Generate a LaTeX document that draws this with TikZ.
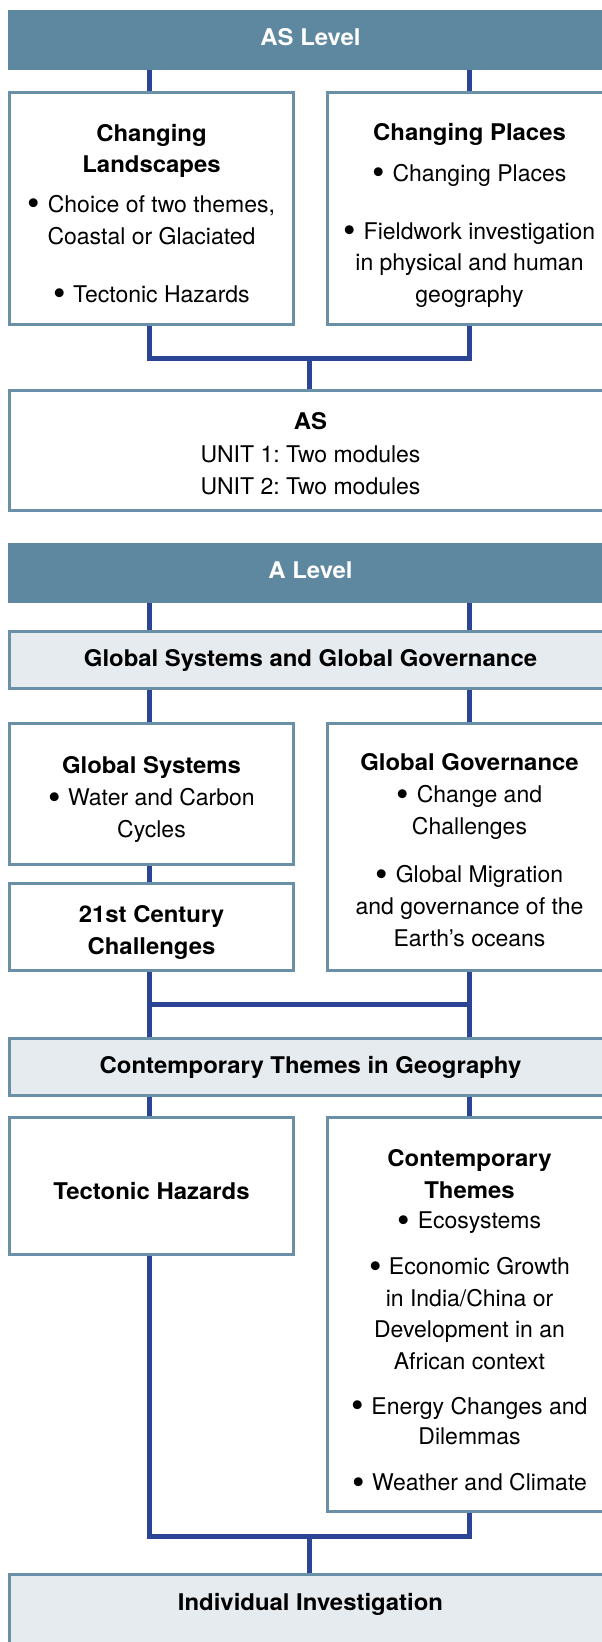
\documentclass[tikz,border=0pt]{standalone}
\usepackage{fontspec}
\usepackage{graphicx}
\setmainfont{TeX Gyre Heros}[BoldFeatures={FakeStretch=1.04}]
\usetikzlibrary{backgrounds}
\definecolor{barblue}{HTML}{5E87A0}
\definecolor{edgeblue}{HTML}{6A90A8}
\definecolor{lightfill}{HTML}{E6EBF0}
\definecolor{linkblue}{HTML}{2C4496}
\newcommand{\bul}{\raisebox{-3.4pt}{\scalebox{1.55}{\textbullet}}\hspace{1pt}}
\frenchspacing
\begin{document}
\begin{tikzpicture}[x=1pt,y=-1pt,
  bar/.style={fill=barblue, draw=none, minimum width=605pt, minimum height=60pt, inner sep=0pt,
    font=\fontsize{23}{28}\selectfont\bfseries, text=white, text height=16.5pt, text depth=5pt},
  box/.style={draw=edgeblue, line width=3pt, fill=white, inner sep=0pt},
  band/.style={box, fill=lightfill, font=\fontsize{23}{28}\selectfont\bfseries, text height=16.5pt, text depth=3pt},
  txt/.style={align=center, inner sep=0pt, anchor=north, font=\fontsize{23}{31.5}\selectfont},
  link/.style={draw=linkblue, line width=5pt}
]
\useasboundingbox (0,0) rectangle (602,1642);
\clip (0,0) rectangle (602,1642);

% columns
\coordinate (c1) at (149,0);
\coordinate (c2) at (469,0);

% AS level
\node[bar] (asbar) at (310.5,40) {AS Level};
\node[box, minimum width=284pt, minimum height=232.5pt] (asl) at (151.5,208.25) {};
\node[box, minimum width=284pt, minimum height=232.5pt] (asr) at (469.5,208.25) {};
\node[txt] (aslt) at (151.5,123.7) {\textbf{Changing}\\\textbf{Landscapes}\\[8.5pt]\bul\ Choice of two themes,\\Coastal or Glaciated\\[26.5pt]\bul\ Tectonic Hazards};
\node[txt] (asrt) at (469.5,122.7) {\textbf{Changing Places}\\[9.5pt]\bul\ Changing Places\\[26.5pt]\bul\ Fieldwork investigation\\in physical and human\\geography};
\node[box, minimum width=602pt, minimum height=120pt] (asbox) at (310.5,450.5) {};
\node[txt] (asboxt) at (310.5,412.7) {\textbf{AS}\\[1pt]UNIT 1: Two modules\\[0.5pt]UNIT 2: Two modules};

% A level
\node[bar] (abar) at (310.5,573) {A Level};
\node[band, minimum width=602pt, minimum height=57pt] (gsgg) at (310.5,660) {Global Systems and Global Governance};
\node[box, minimum width=284pt, minimum height=141pt] (gs) at (151.5,794) {};
\node[txt] (gst) at (151.5,756.7) {\textbf{Global Systems}\\[0.5pt]\bul\ Water and Carbon\\[0.5pt]Cycles};
\node[box, minimum width=284pt, minimum height=87pt] (cen) at (151.5,927) {};
\node[txt] (cent) at (151.5,905.7) {\textbf{21st Century}\\[0.5pt]\textbf{Challenges}};
\node[box, minimum width=284pt, minimum height=247pt] (gg) at (469.5,847) {};
\node[txt] (ggt) at (469.5,753.7) {\textbf{Global Governance}\\[0.5pt]\bul\ Change and\\[0.5pt]Challenges\\[16.5pt]\bul\ Global Migration\\[0.5pt]and governance of the\\[0.5pt]Earth’s oceans};

\node[band, minimum width=602pt, minimum height=57pt] (ctg) at (310.5,1067) {Contemporary Themes in Geography};
\node[box, minimum width=284pt, minimum height=137pt] (th) at (151.5,1186) {};
\node[txt] (tht) at (151.5,1181.7) {\textbf{Tectonic Hazards}};
\node[box, minimum width=284pt, minimum height=394pt] (ct) at (469.5,1314.5) {};
\node[txt] (ctt) at (469.5,1149.7) {\textbf{Contemporary}\\\textbf{Themes}\\[-1pt]\bul\ Ecosystems\\[14.5pt]\bul\ Economic Growth\\in India/China or\\Development in an\\African context\\[13.5pt]\bul\ Energy Changes and\\[-1pt]Dilemmas\\[14.5pt]\bul\ Weather and Climate};

\node[band, minimum width=602pt, minimum height=85.5pt] (ii) at (310.5,1617.25) {};
\node[txt] (iit) at (310.5,1592.7) {\textbf{Individual Investigation}};

% junction points
\coordinate (j1) at (309,358);
\coordinate (j2) at (309,1004);
\coordinate (j3) at (309,1536);

\begin{pgfonlayer}{background}
  \draw[link] (c1 |- asbar.south) -- (c1 |- asl.north);
  \draw[link] (c2 |- asbar.south) -- (c2 |- asr.north);
  \draw[link] (c1 |- asl.south) -- (c1 |- j1) -- (c2 |- j1) -- (c2 |- asr.south);
  \draw[link] (j1) -- (j1 |- asbox.north);

  \draw[link] (c1 |- abar.south) -- (c1 |- gsgg.north);
  \draw[link] (c2 |- abar.south) -- (c2 |- gsgg.north);
  \draw[link] (c1 |- gsgg.south) -- (c1 |- gs.north);
  \draw[link] (c2 |- gsgg.south) -- (c2 |- gg.north);
  \draw[link] (c1 |- gs.south) -- (c1 |- cen.north);
  \draw[link] (c1 |- cen.south) -- (c1 |- ctg.north);
  \draw[link] (c2 |- gg.south) -- (c2 |- ctg.north);
  \draw[link] (c1 |- j2) -- (c2 |- j2);

  \draw[link] (c1 |- ctg.south) -- (c1 |- th.north);
  \draw[link] (c2 |- ctg.south) -- (c2 |- ct.north);
  \draw[link] (c1 |- th.south) -- (c1 |- j3) -- (c2 |- j3) -- (c2 |- ct.south);
  \draw[link] (j3) -- (j3 |- ii.north);
\end{pgfonlayer}
\end{tikzpicture}
\end{document}
